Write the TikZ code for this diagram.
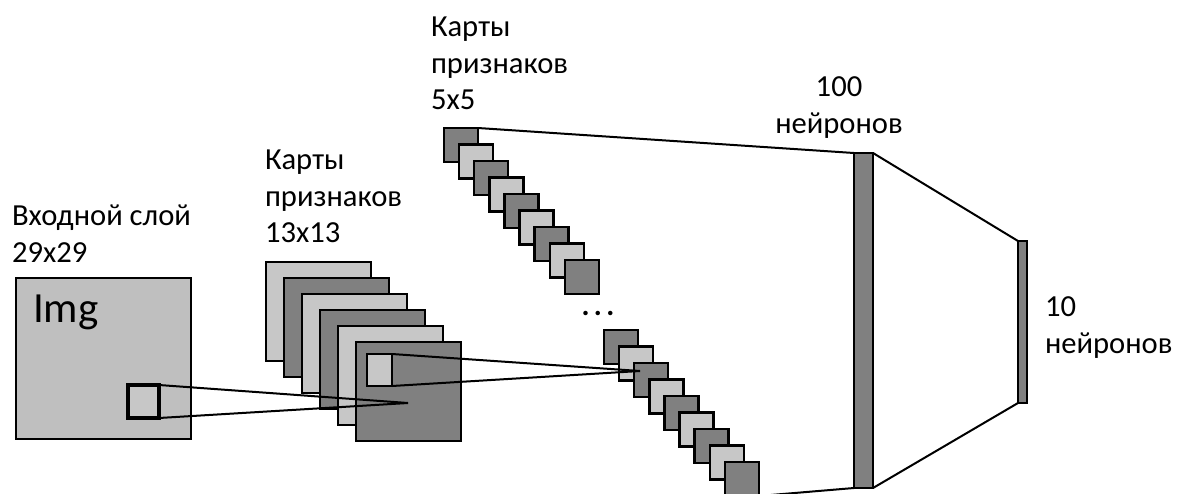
\documentclass[tikz,border=0pt]{standalone}
\usepackage{fontspec}
\setmainfont{Carlito}
\begin{document}
\begin{tikzpicture}[x=0.5pt,y=-0.5pt,
    every node/.style={inner sep=0pt,outer sep=0pt},
    lbl/.style={font=\fontsize{15.3}{18.25}\selectfont,align=left,anchor=north west},
    fmap/.style={draw,line width=1.2pt,minimum width=52.5pt,minimum height=49.5pt,anchor=north west},
    smap/.style={draw,line width=1.2pt,minimum size=17pt,anchor=north west},
    lgt/.style={fill=black!22},
    drk/.style={fill=black!50},
    conn/.style={line width=1pt},
    bar/.style={draw,line width=0.8pt,fill=black!50,anchor=north west}
  ]
  \useasboundingbox (0,0) rectangle (1194,493);
  % input layer
  \node[draw,line width=1pt,fill=black!25,minimum width=87.5pt,minimum height=80.5pt,anchor=north west]
  (inp) at (16,278) {};
  \node[font=\fontsize{21.5}{22}\selectfont,anchor=base west] (img) at (33,322) {Img};
  \node[draw,line width=2pt,lgt,minimum width=15.5pt,minimum height=16.5pt,anchor=north west]
  (k1) at (128,385) {};
  % 13x13 maps
  \foreach \i/\s in {0/lgt,1/drk,2/lgt,3/drk,4/lgt,5/drk}
  \node[fmap,\s] (fm\i) at ({266+18*\i},{262+16*\i}) {};
  \node[draw,line width=1.2pt,lgt,minimum width=12.5pt,minimum height=16pt,anchor=north west]
  (k2) at (367,354) {};
  % 5x5 maps
  \foreach \i/\s in {0/drk,1/lgt,2/drk,3/lgt,4/drk,5/lgt,6/drk,7/lgt,8/drk}{
    \node[smap,\s] (up\i) at ({444+15.1*\i},{128+16.5*\i}) {};
    \node[smap,\s] (lo\i) at ({604+15.1*\i},{330+16.5*\i}) {};
  }
  \node[font=\fontsize{15}{15}\selectfont\bfseries] (dots) at (598,313)
  {.\hspace{2.2pt}.\hspace{2.2pt}.};
  % full layers
  \node[bar,minimum width=9.5pt,minimum height=167.5pt] (b100) at (854,153) {};
  \node[bar,minimum width=4.5pt,minimum height=81pt] (b10) at (1018,241) {};
  % connections
  \coordinate (c1) at (408,403);
  \coordinate (c2) at (640,371);
  \draw[conn] (k1.north east) -- (c1) -- (k1.south east);
  \draw[conn] (k2.north east) -- (c2) -- (k2.south east);
  \draw[conn] (up0.north east) -- (b100.north west);
  \draw[conn] (lo8.south east) -- (b100.south west);
  \draw[conn] (b100.north east) -- (b10.north west);
  \draw[conn] (b100.south east) -- (b10.south west);
  % labels
  \node[lbl] (t1) at (12,205) {Входной слой\\29x29};
  \node[lbl] (t2) at (265,150) {Карты\\признаков\\13x13};
  \node[lbl] (t3) at (431,17) {Карты\\признаков\\5x5};
  \node[lbl,align=center,anchor=north] (t4) at (839,77) {100\\нейронов};
  \node[lbl] (t5) at (1045,297) {10\\нейронов};
\end{tikzpicture}
\end{document}
